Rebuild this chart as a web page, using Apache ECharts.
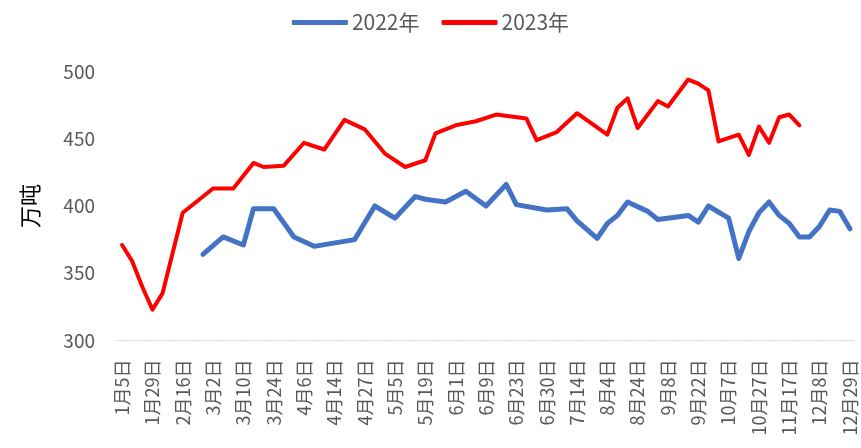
<!DOCTYPE html>
<html>
<head>
<meta charset="utf-8">
<script src="https://cdn.jsdelivr.net/npm/echarts@6/dist/echarts.min.js"></script>
<style>
    html, body { margin: 0; padding: 0; background: #fff; }
    #chart { width: 861px; height: 448px; }
</style>
</head>
<body>
<div id="chart"></div>
<script>
    // visible date labels (one every third category)
    const dateLabels = ["1月5日", "1月29日", "2月16日", "3月2日", "3月10日", "3月24日", "4月6日", "4月14日",
        "4月27日", "5月5日", "5月19日", "6月1日", "6月9日", "6月23日", "6月30日", "7月14日", "8月4日",
        "8月24日", "9月8日", "9月22日", "10月7日", "10月27日", "11月17日", "12月8日", "12月29日"];

    const seriesNames = ["2022年", "2023年"];

    // 73 category slots, null = no point there (line is drawn straight through)
    const data2022 = [null, null, null, null, null, null, null, null, 364, null,
        377, null, 371, 398, null, 398, null, 377, null, 370,
        null, null, null, 375, null, 400, null, 391, null, 407,
        405, null, 403, null, 411, null, 400, null, 416, 401,
        null, null, 397, null, 398, 389, null, 376, 387, 393,
        403, null, 396, 390, null, null, 393, 388, 400, null,
        391, 361, 381, 395, 403, 393, 387, 377, 377, 385,
        397, 396, 383];

    const data2023 = [371, 359, 340, 323, 335, null, 395, null, null, 413,
        null, 413, null, 432, 429, null, 430, null, 447, null,
        442, null, 464, null, 457, null, 439, null, 429, null,
        434, 454, null, 460, null, 463, null, 468, null, null,
        465, 449, null, 455, null, 469, null, null, 453, 473,
        480, 458, null, 478, 474, null, 494, 491, 486, 448,
        null, 453, 438, 459, 447, 466, 468, 460, null, null,
        null, null, null];

    const yMin = 300, yMax = 500, yStep = 50;

    // build the 73 categories: each label followed by two unlabeled slots
    let categories = [];
    dateLabels.forEach((d, i) => {
        categories.push(d);
        if (i < dateLabels.length - 1) categories.push("", "");
    });

    const font = "'Noto Sans CJK SC', 'Noto Sans', sans-serif";

    let chart = echarts.init(document.getElementById("chart"));
    chart.setOption({
        animation: false,
        backgroundColor: '#fff',
        textStyle: { fontFamily: font },
        legend: {
            data: seriesNames,
            top: 7,
            left: 'center',
            icon: 'roundRect',
            itemWidth: 56,
            itemHeight: 5,
            itemGap: 22,
            textStyle: { fontSize: 21, color: '#595959', padding: [0, 0, 0, -1] }
        },
        grid: {
            left: 117,
            right: 6,
            top: 71.5,
            bottom: 107.5,
            containLabel: false
        },
        xAxis: {
            type: 'category',
            data: categories,
            boundaryGap: true,
            axisTick: { show: false },
            axisLine: {
                lineStyle: { color: '#d9d9d9', width: 1, type: [2, 1] }
            },
            axisLabel: {
                interval: 2,
                rotate: 90,
                margin: 19,
                fontSize: 18,
                color: '#595959'
            }
        },
        yAxis: {
            type: 'value',
            min: yMin,
            max: yMax,
            interval: yStep,
            name: '万吨',
            nameLocation: 'middle',
            nameGap: 76,
            nameTextStyle: { fontSize: 22, color: '#000' },
            axisLine: { show: false },
            axisTick: { show: false },
            splitLine: { show: false },
            axisLabel: { fontSize: 19, color: '#595959', margin: 22 }
        },
        series: [{
            name: seriesNames[0],
            type: 'line',
            data: data2022,
            connectNulls: true,
            symbol: 'none',
            color: '#4472C4',
            lineStyle: { width: 5, color: '#4472C4', cap: 'round', join: 'round' }
        }, {
            name: seriesNames[1],
            type: 'line',
            data: data2023,
            connectNulls: true,
            symbol: 'none',
            color: '#FF0000',
            lineStyle: { width: 4, color: '#FF0000', cap: 'round', join: 'round' }
        }]
    });
</script>
</body>
</html>
